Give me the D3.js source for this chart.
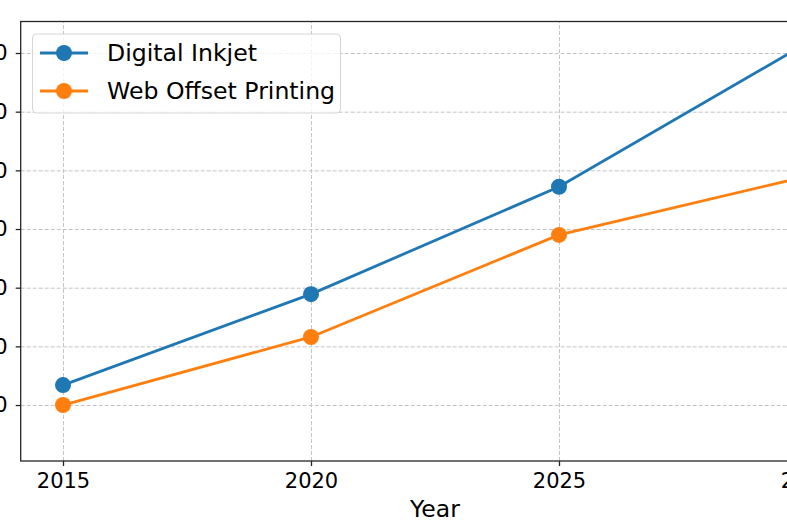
<!DOCTYPE html>
<html>
<head>
    <meta charset="UTF-8">
    <style>
        body { margin: 0; background: #fff; overflow: hidden; }
        svg { font-family: "DejaVu Sans", sans-serif; }
        .grid line { stroke: #c4c4c4; stroke-dasharray: 4,2; stroke-width: 1; }
        .grid .domain { display: none; }
        .axis text { font-family: "DejaVu Sans", sans-serif; font-size: 21px; fill: #000; }
        .axis line, .axis .domain { stroke: #262626; stroke-width: 1.3; }
    </style>
</head>
<body>
    <script src="https://d3js.org/d3.v7.min.js"></script>
    <script>
var years = [2015, 2020, 2025, 2030];
var inkjet = [23.4, 38.9, 57.2, 81.7];
var offset = [20.0, 31.6, 49.0, 59.0];
var seriesNames = ["Digital Inkjet", "Web Offset Printing"];
var colors = ["#1f77b4", "#ff7f0e"];
var yTicks = [20, 30, 40, 50, 60, 70, 80];

var width = 787, height = 528;
var margin = {left: 20.7, top: 21.5};
var plotW = 828.6, plotH = 439.5;

var svg = d3.select("body").append("svg").attr("width", width).attr("height", height);
var g = svg.append("g").attr("transform", "translate(" + margin.left + "," + margin.top + ")");

var x = d3.scaleLinear().domain([2014.147, 2030.853]).range([0, plotW]);
var y = d3.scaleLinear().domain([10.46, 85.37]).range([plotH, 0]);

// grid
g.append("g").attr("class", "grid")
    .attr("transform", "translate(0," + plotH + ")")
    .call(d3.axisBottom(x).tickValues(years).tickSize(-plotH).tickFormat(""));
g.append("g").attr("class", "grid")
    .call(d3.axisLeft(y).tickValues(yTicks).tickSize(-plotW).tickFormat(""));

// lines + markers
var line = d3.line().x(function(d) { return x(d[0]); }).y(function(d) { return y(d[1]); });
[inkjet, offset].forEach(function(vals, i) {
    var pts = years.map(function(yr, j) { return [yr, vals[j]]; });
    g.append("path").datum(pts)
        .attr("fill", "none").attr("stroke", colors[i]).attr("stroke-width", 2.8)
        .attr("d", line);
    g.selectAll(".pt" + i).data(pts).enter().append("circle")
        .attr("cx", function(d) { return x(d[0]); })
        .attr("cy", function(d) { return y(d[1]); })
        .attr("r", 8).attr("fill", colors[i]);
});

// spines
g.append("rect").attr("width", plotW).attr("height", plotH)
    .attr("fill", "none").attr("stroke", "#262626").attr("stroke-width", 1.3);

// axes
var xAxis = g.append("g").attr("class", "axis")
    .attr("transform", "translate(0," + plotH + ")")
    .call(d3.axisBottom(x).tickValues(years).tickFormat(d3.format("d")).tickSize(5).tickPadding(7));
xAxis.select(".domain").remove();
var yAxis = g.append("g").attr("class", "axis")
    .call(d3.axisLeft(y).tickValues(yTicks).tickSize(5).tickPadding(8));
yAxis.select(".domain").remove();

svg.append("text").attr("x", margin.left + plotW / 2).attr("y", 517)
    .attr("text-anchor", "middle").attr("font-size", 23.5).text("Year");

// legend
var lg = svg.append("g");
lg.append("rect").attr("x", 32.5).attr("y", 34).attr("width", 308).attr("height", 79)
    .attr("rx", 4).attr("fill", "#fff").attr("fill-opacity", 0.8)
    .attr("stroke", "#d6d6d6").attr("stroke-width", 1);
seriesNames.forEach(function(name, i) {
    var ly = 53 + i * 38;
    lg.append("line").attr("x1", 40).attr("x2", 88).attr("y1", ly).attr("y2", ly)
        .attr("stroke", colors[i]).attr("stroke-width", 2.8);
    lg.append("circle").attr("cx", 64).attr("cy", ly).attr("r", 8).attr("fill", colors[i]);
    lg.append("text").attr("x", 107).attr("y", ly).attr("dy", "0.35em")
        .attr("font-size", 23.6).text(name);
});
    </script>
</body>
</html>
